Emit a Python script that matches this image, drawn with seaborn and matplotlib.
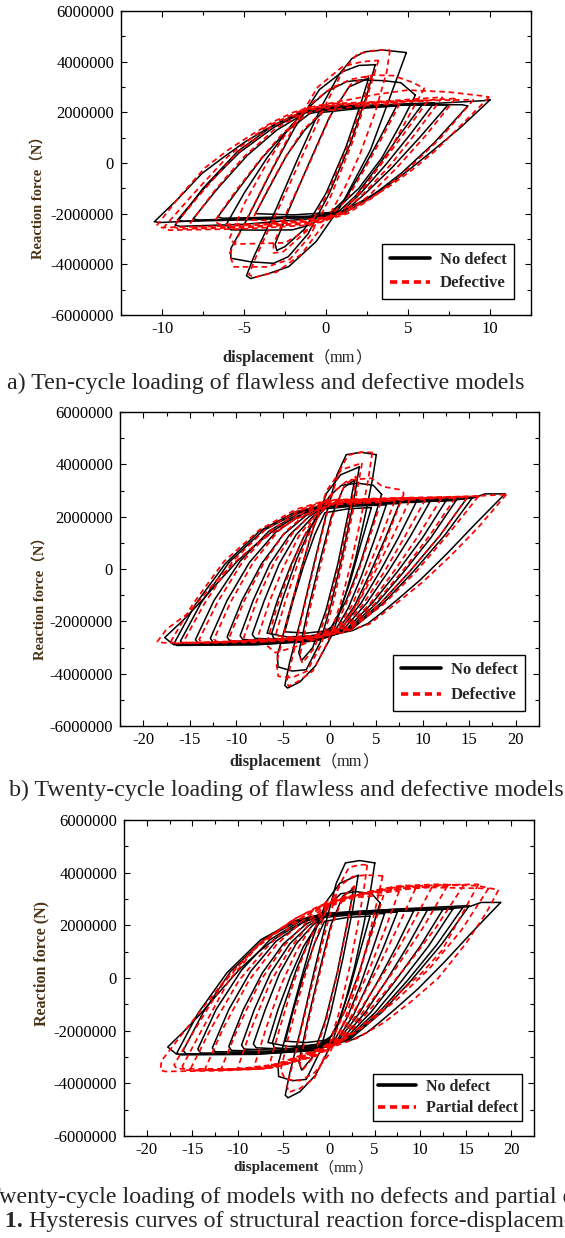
import numpy as np
import pandas as pd
import matplotlib
matplotlib.use("Agg")
import matplotlib.pyplot as plt
from matplotlib.lines import Line2D
from matplotlib.text import Annotation
from matplotlib.ticker import FixedLocator, MultipleLocator, FuncFormatter
import seaborn as sns

# ---------------- data (displacement in mm, force in 1e6 N) ----------------
X_TICKS_A = [-10, -5, 0, 5, 10]
X_TICKS_BC = [-20, -15, -10, -5, 0, 5, 10, 15, 20]
Y_TICKS = [-6000000, -4000000, -2000000, 0, 2000000, 4000000, 6000000]

# (a) ten cycles, no defect
A_NODEF_LOOPS = [
    [(2.6,3.35),(2.1,2.3),(1.2,0.6),(0.0,-1.2),(-1.3,-2.6),(-2.5,-3.3),(-3.0,-3.45),(-3.1,-3.2),(-2.3,-1.9),(-1.1,-0.1),(0.2,1.8),(1.4,3.0),(2.6,3.35)],
    [(3.0,3.88),(2.5,2.7),(1.5,0.8),(0.2,-1.2),(-1.1,-2.8),(-2.3,-3.7),(-3.2,-3.96),(-4.6,-3.9),(-5.8,-3.76),(-5.8,-3.37),(-4.8,-2.2),(-3.4,-0.4),(-1.9,1.4),(-0.4,2.9),(1.0,3.6),(2.0,3.85),(3.0,3.88)],
    [(4.9,4.36),(4.3,3.3),(3.5,1.9),(2.7,0.5),(1.8,-0.6),(0.9,-1.7),(-0.6,-3.1),(-2.27,-4.09),(-3.48,-4.36),(-4.6,-4.56),(-4.85,-4.45),(-4.4,-3.7),(-3.1,-1.9),(-1.7,0.2),(-0.3,2.2),(0.8,3.5),(1.59,4.13),(2.36,4.39),(3.46,4.46),(4.9,4.36)],
    [(5.45,2.68),(4.6,1.6),(3.4,0.2),(2.0,-1.0),(0.6,-1.85),(-1.0,-2.45),(-2.05,-2.64),(-4.0,-2.65),(-5.8,-2.64),(-6.1,-2.45),(-5.0,-1.2),(-3.6,0.2),(-2.1,1.5),(-0.8,2.35),(0.04,2.82),(1.26,3.21),(2.14,3.28),(3.5,3.25),(4.56,3.17),(5.45,2.68)],
    [(4.3,2.25),(3.3,1.0),(2.2,-0.3),(1.2,-1.4),(0.3,-1.95),(-2.0,-2.05),(-4.3,-2.0),(-3.4,-0.9),(-2.4,0.3),(-1.3,1.3),(-0.2,2.0),(2.0,2.15),(4.3,2.25)],
    [(5.9,2.33),(4.6,1.2),(3.2,-0.1),(1.8,-1.3),(0.8,-1.9),(-1.0,-2.1),(-4.0,-2.15),(-6.3,-2.18),(-6.6,-2.13),(-5.3,-1.0),(-3.9,0.2),(-2.5,1.2),(-1.0,1.95),(0.5,2.15),(3.0,2.25),(5.9,2.33)],
    [(6.6,2.38),(5.1,1.1),(3.6,-0.1),(2.1,-1.2),(1.0,-1.9),(-1.0,-2.12),(-4.5,-2.2),(-7.8,-2.25),(-8.1,-2.2),(-6.6,-1.0),(-4.8,0.3),(-3.0,1.3),(-1.2,2.0),(0.5,2.18),(3.5,2.3),(6.6,2.38)],
    [(7.43,2.29),(5.7,1.0),(4.0,-0.2),(2.4,-1.2),(1.1,-1.92),(-1.0,-2.15),(-5.0,-2.25),(-8.7,-2.3),(-9.06,-2.25),(-7.3,-0.9),(-5.3,0.4),(-3.2,1.4),(-1.2,2.05),(0.5,2.2),(4.0,2.28),(7.43,2.29)],
    [(8.64,2.25),(6.6,0.8),(4.6,-0.4),(2.8,-1.3),(1.2,-1.95),(-1.0,-2.2),(-5.0,-2.42),(-8.9,-2.5),(-9.2,-2.45),(-7.5,-1.0),(-5.4,0.45),(-3.2,1.5),(-1.2,2.1),(0.5,2.25),(4.5,2.3),(8.3,2.3),(8.64,2.25)],
    [(10.0,2.49),(8.2,1.4),(6.44,0.45),(5.0,-0.3),(3.68,-0.93),(2.2,-1.5),(0.93,-1.92),(-1.0,-2.15),(-4.0,-2.2),(-7.0,-2.25),(-10.1,-2.35),(-10.47,-2.32),(-9.0,-1.4),(-7.56,-0.41),(-6.2,0.25),(-4.92,0.84),(-3.6,1.35),(-2.27,1.76),(-1.39,2.03),(0.3,2.12),(3.0,2.22),(6.0,2.33),(9.6,2.46),(10.0,2.49)],
]

# (a) ten cycles, defective
A_DEF_LOOPS = [
    [(2.8,3.5),(2.2,2.3),(1.3,0.6),(0.1,-1.2),(-1.2,-2.7),(-2.6,-3.5),(-3.2,-3.55),(-3.2,-3.2),(-2.3,-1.8),(-1.0,0.0),(0.3,1.9),(1.5,3.1),(2.8,3.5)],
    [(3.2,4.05),(2.6,2.8),(1.6,0.8),(0.3,-1.3),(-1.0,-2.9),(-2.2,-3.8),(-3.6,-4.1),(-5.6,-4.1),(-5.9,-3.6),(-4.9,-2.3),(-3.5,-0.5),(-2.0,1.4),(-0.5,3.0),(1.0,3.8),(2.2,4.0),(3.2,4.05)],
    [(3.9,4.46),(3.7,3.6),(3.0,2.0),(2.1,0.4),(1.2,-0.9),(0.0,-2.3),(-1.5,-3.6),(-3.0,-4.3),(-4.4,-4.52),(-4.7,-4.4),(-4.2,-3.6),(-2.9,-1.8),(-1.5,0.2),(-0.1,2.2),(1.0,3.6),(1.9,4.3),(3.0,4.45),(3.9,4.46)],
    [(6.0,2.95),(5.0,1.8),(3.8,0.4),(2.4,-0.9),(1.0,-1.9),(-0.8,-2.5),(-2.5,-3.15),(-5.5,-3.2),(-5.9,-3.0),(-4.9,-1.5),(-3.6,0.0),(-2.2,1.4),(-0.8,2.4),(0.3,2.95),(1.5,3.3),(2.9,3.47),(4.1,3.45),(5.2,3.2),(6.0,2.95)],
    [(4.5,2.35),(3.5,1.1),(2.3,-0.3),(1.2,-1.5),(0.2,-2.1),(-2.0,-2.3),(-4.5,-2.25),(-3.6,-1.1),(-2.5,0.2),(-1.4,1.3),(-0.2,2.05),(2.0,2.25),(4.5,2.35)],
    [(6.2,2.45),(4.8,1.2),(3.3,-0.1),(1.9,-1.3),(0.8,-2.0),(-1.0,-2.3),(-4.0,-2.4),(-6.5,-2.42),(-6.8,-2.3),(-5.5,-1.1),(-4.0,0.15),(-2.6,1.2),(-1.0,2.0),(0.6,2.25),(3.2,2.38),(6.2,2.45)],
    [(7.1,2.6),(5.5,1.2),(3.9,-0.1),(2.3,-1.2),(1.0,-2.0),(-1.0,-2.35),(-4.5,-2.5),(-8.0,-2.55),(-8.3,-2.4),(-6.8,-1.1),(-5.0,0.25),(-3.1,1.35),(-1.2,2.05),(0.6,2.3),(3.8,2.45),(7.1,2.6)],
    [(7.9,2.55),(6.1,1.1),(4.3,-0.2),(2.6,-1.3),(1.1,-2.0),(-1.0,-2.4),(-5.0,-2.55),(-9.0,-2.6),(-9.3,-2.5),(-7.5,-1.1),(-5.5,0.35),(-3.3,1.45),(-1.2,2.1),(0.6,2.3),(4.2,2.4),(7.9,2.55)],
    [(9.0,2.5),(7.0,1.0),(4.9,-0.3),(3.0,-1.3),(1.3,-2.0),(-1.0,-2.45),(-5.0,-2.6),(-9.6,-2.65),(-9.9,-2.55),(-8.2,-1.3),(-6.0,0.25),(-3.6,1.45),(-1.4,2.1),(0.5,2.35),(4.5,2.45),(9.0,2.5)],
    [(9.95,2.6),(8.4,1.6),(6.7,0.5),(5.2,-0.3),(3.8,-0.95),(2.3,-1.55),(1.0,-2.0),(-1.0,-2.3),(-4.0,-2.45),(-7.0,-2.5),(-10.0,-2.55),(-10.3,-2.45),(-8.9,-1.3),(-7.4,-0.2),(-6.0,0.5),(-4.7,1.05),(-3.3,1.6),(-2.0,2.0),(-1.0,2.2),(1.0,2.45),(3.0,2.7),(5.0,2.88),(7.5,2.8),(9.5,2.65),(9.95,2.6)],
]

# (b)/(c) twenty cycles, no defect
B_NODEF_LOOPS = [
    [(5.03,4.37),(4.6,3.4),(3.8,2.0),(2.8,0.4),(1.7,-1.0),(0.3,-2.5),(-1.5,-3.7),(-3.2,-4.32),(-4.5,-4.55),(-4.8,-4.45),(-4.3,-3.6),(-3.0,-1.8),(-1.6,0.3),(-0.2,2.3),(0.8,3.6),(1.8,4.37),(3.37,4.46),(5.03,4.37)],
    [(3.2,3.9),(2.6,2.6),(1.5,0.7),(0.2,-1.3),(-1.0,-2.8),(-2.5,-3.85),(-4.0,-3.9),(-5.53,-3.74),(-5.6,-3.3),(-4.6,-2.0),(-3.2,-0.2),(-1.8,1.5),(-0.3,2.9),(1.2,3.6),(3.2,3.9)],
    [(2.7,3.4),(2.0,2.1),(0.9,0.2),(-0.4,-1.6),(-1.8,-3.0),(-3.0,-3.5),(-3.3,-3.2),(-2.4,-1.7),(-1.1,0.2),(0.2,2.0),(1.5,3.1),(2.7,3.4)],
    [(5.6,2.85),(4.6,1.7),(3.3,0.2),(1.8,-1.2),(0.3,-2.2),(-1.5,-2.6),(-4.0,-2.7),(-6.0,-2.65),(-6.2,-2.45),(-5.0,-1.1),(-3.5,0.4),(-2.0,1.6),(-0.8,2.4),(0.2,2.85),(1.3,3.2),(3.0,3.28),(4.7,3.2),(5.6,2.85)],
    [(4.5,2.35),(3.4,1.0),(2.2,-0.5),(1.0,-1.7),(0.0,-2.35),(-2.5,-2.45),(-4.8,-2.4),(-3.9,-1.2),(-2.8,0.1),(-1.6,1.3),(-0.5,2.15),(2.0,2.3),(4.5,2.35)],
    [(6.1,2.45),(4.8,1.1),(3.4,-0.3),(2.0,-1.5),(0.7,-2.3),(-1.5,-2.55),(-4.5,-2.6),(-6.7,-2.45),(-5.6,-1.2),(-4.2,0.1),(-2.8,1.2),(-1.5,1.9),(-0.5,2.3),(2.5,2.4),(6.1,2.45)],
    [(7.5,2.5),(5.9,1.1),(4.3,-0.2),(2.7,-1.4),(1.0,-2.3),(-1.5,-2.6),(-5.0,-2.7),(-8.0,-2.65),(-8.3,-2.5),(-7.0,-1.2),(-5.4,0.2),(-3.6,1.3),(-1.8,2.0),(-0.5,2.35),(3.0,2.45),(7.5,2.5)],
    [(9.3,2.55),(7.4,1.2),(5.4,-0.1),(3.4,-1.3),(1.2,-2.3),(-1.5,-2.65),(-5.0,-2.75),(-9.3,-2.7),(-9.6,-2.55),(-8.2,-1.2),(-6.4,0.2),(-4.3,1.3),(-2.2,2.0),(-0.5,2.38),(4.0,2.5),(9.3,2.55)],
    [(10.8,2.58),(8.6,1.2),(6.3,-0.1),(4.0,-1.3),(1.5,-2.3),(-1.5,-2.68),(-6.0,-2.8),(-10.7,-2.75),(-11.0,-2.6),(-9.4,-1.2),(-7.3,0.2),(-5.0,1.3),(-2.5,2.05),(-0.5,2.4),(5.0,2.52),(10.8,2.58)],
    [(12.5,2.6),(10.0,1.2),(7.3,-0.1),(4.6,-1.3),(1.8,-2.3),(-1.5,-2.7),(-6.5,-2.82),(-12.5,-2.8),(-12.8,-2.65),(-11.0,-1.2),(-8.6,0.25),(-5.8,1.4),(-2.9,2.1),(-0.5,2.42),(6.0,2.55),(12.5,2.6)],
    [(13.6,2.62),(10.9,1.2),(8.0,-0.1),(5.1,-1.3),(2.0,-2.3),(-1.5,-2.72),(-7.0,-2.85),(-14.1,-2.85),(-14.4,-2.7),(-12.4,-1.2),(-9.6,0.3),(-6.5,1.45),(-3.2,2.15),(-0.5,2.43),(6.5,2.57),(13.6,2.62)],
    [(14.7,2.68),(11.8,1.25),(8.6,-0.1),(5.5,-1.3),(2.2,-2.3),(-1.5,-2.75),(-7.5,-2.88),(-15.7,-2.88),(-16.0,-2.75),(-13.8,-1.3),(-10.8,0.25),(-7.2,1.45),(-3.5,2.15),(-0.5,2.45),(7.0,2.6),(14.7,2.68)],
    [(15.4,2.75),(12.4,1.3),(9.0,-0.1),(5.8,-1.3),(2.4,-2.3),(-1.5,-2.75),(-8.0,-2.9),(-16.4,-2.92),(-16.7,-2.85),(-14.4,-1.35),(-11.2,0.2),(-7.5,1.45),(-3.7,2.18),(-0.5,2.45),(7.5,2.62),(15.4,2.75)],
    [(18.84,2.87),(15.6,1.7),(12.65,0.6),(9.8,-0.4),(7.23,-1.19),(5.5,-1.7),(4.14,-2.08),(2.5,-2.35),(1.04,-2.46),(-1.66,-2.53),(-5.9,-2.78),(-11.0,-2.87),(-16.75,-2.89),(-17.7,-2.62),(-15.7,-1.95),(-13.66,-1.19),(-11.7,-0.4),(-9.79,0.34),(-7.8,0.97),(-5.92,1.49),(-4.3,1.85),(-2.82,2.13),(-0.5,2.41),(3.0,2.52),(8.0,2.56),(13.0,2.62),(15.5,2.72),(16.7,2.87),(18.84,2.87)],
]

# (b) twenty cycles, defective
B_DEF_LOOPS = [
    [(4.6,4.45),(4.1,3.3),(3.3,1.8),(2.3,0.2),(1.2,-1.3),(-0.2,-2.8),(-1.8,-3.9),(-3.4,-4.3),(-4.4,-4.48),(-4.6,-4.3),(-4.0,-3.4),(-2.8,-1.6),(-1.4,0.5),(0.0,2.5),(1.0,3.7),(2.0,4.35),(3.5,4.47),(4.6,4.45)],
    [(3.5,4.05),(2.8,2.7),(1.7,0.8),(0.4,-1.3),(-0.9,-2.9),(-2.4,-3.9),(-4.0,-4.15),(-5.5,-4.1),(-5.7,-3.6),(-4.7,-2.2),(-3.3,-0.3),(-1.8,1.5),(-0.3,3.0),(1.3,3.8),(3.5,4.05)],
    [(2.9,3.55),(2.2,2.2),(1.1,0.3),(-0.2,-1.6),(-1.6,-3.0),(-2.9,-3.6),(-3.2,-3.35),(-2.3,-1.8),(-1.0,0.1),(0.3,2.0),(1.6,3.2),(2.9,3.55)],
    [(8.0,2.9),(6.6,1.6),(5.0,0.2),(3.3,-1.1),(1.5,-2.2),(-1.0,-2.6),(-3.0,-2.9),(-5.8,-3.2),(-6.8,-2.9),(-5.6,-1.4),(-4.0,0.2),(-2.4,1.5),(-1.0,2.4),(0.3,2.9),(2.0,3.4),(4.5,3.47),(5.7,3.15),(7.6,3.03),(8.0,2.9)],
    [(5.5,2.55),(4.3,1.2),(3.0,-0.2),(1.7,-1.4),(0.5,-2.3),(-1.8,-2.55),(-4.5,-2.6),(-5.8,-2.55),(-4.8,-1.3),(-3.6,0.0),(-2.4,1.2),(-1.2,2.0),(-0.2,2.45),(2.5,2.5),(5.5,2.55)],
    [(7.0,2.6),(5.5,1.2),(4.0,-0.1),(2.4,-1.4),(0.8,-2.3),(-1.8,-2.6),(-5.0,-2.68),(-7.4,-2.7),(-7.7,-2.6),(-6.4,-1.2),(-4.9,0.1),(-3.3,1.25),(-1.6,2.05),(-0.2,2.5),(3.0,2.56),(7.0,2.6)],
    [(8.6,2.63),(6.8,1.25),(4.9,-0.1),(3.0,-1.35),(1.0,-2.3),(-1.8,-2.62),(-5.5,-2.7),(-8.9,-2.72),(-9.2,-2.62),(-7.8,-1.2),(-6.0,0.2),(-4.0,1.35),(-2.0,2.1),(-0.2,2.52),(4.0,2.6),(8.6,2.63)],
    [(10.3,2.66),(8.1,1.25),(5.9,-0.1),(3.6,-1.35),(1.3,-2.3),(-1.8,-2.64),(-6.0,-2.72),(-10.5,-2.75),(-10.8,-2.65),(-9.2,-1.25),(-7.1,0.2),(-4.8,1.4),(-2.4,2.15),(-0.2,2.55),(5.0,2.63),(10.3,2.66)],
    [(12.0,2.7),(9.5,1.25),(6.9,-0.1),(4.3,-1.35),(1.6,-2.3),(-1.8,-2.65),(-6.5,-2.74),(-12.1,-2.78),(-12.4,-2.68),(-10.6,-1.25),(-8.2,0.25),(-5.5,1.45),(-2.7,2.2),(-0.2,2.58),(6.0,2.66),(12.0,2.7)],
    [(13.5,2.72),(10.8,1.3),(7.8,-0.1),(4.8,-1.35),(1.8,-2.3),(-1.8,-2.66),(-7.0,-2.76),(-13.7,-2.8),(-14.0,-2.7),(-12.0,-1.25),(-9.3,0.3),(-6.2,1.5),(-3.0,2.25),(-0.2,2.6),(6.5,2.68),(13.5,2.72)],
    [(14.8,2.75),(11.9,1.3),(8.6,-0.1),(5.4,-1.35),(2.0,-2.3),(-1.8,-2.67),(-7.5,-2.78),(-15.3,-2.82),(-15.6,-2.72),(-13.4,-1.3),(-10.4,0.3),(-6.9,1.5),(-3.3,2.25),(-0.2,2.62),(7.0,2.7),(14.8,2.75)],
    [(16.0,2.78),(12.8,1.35),(9.3,-0.1),(5.8,-1.35),(2.2,-2.3),(-1.8,-2.68),(-8.0,-2.8),(-16.7,-2.84),(-17.0,-2.74),(-14.6,-1.3),(-11.3,0.3),(-7.5,1.5),(-3.6,2.28),(-0.2,2.64),(7.5,2.72),(16.0,2.78)],
    [(19.0,2.85),(16.0,1.6),(13.0,0.5),(10.0,-0.5),(7.4,-1.25),(4.3,-2.1),(1.2,-2.45),(-1.8,-2.6),(-6.0,-2.7),(-12.0,-2.8),(-17.8,-2.82),(-18.5,-2.78),(-17.5,-2.3),(-15.2,-1.7),(-13.6,-1.05),(-12.1,-0.42),(-10.2,0.25),(-8.2,0.86),(-6.3,1.35),(-4.4,1.75),(-2.8,2.05),(-1.3,2.26),(1.0,2.55),(6.0,2.68),(12.0,2.74),(16.5,2.8),(19.0,2.85)],
]

# (c) twenty cycles, partial defect
C_PARTIAL_LOOPS = [
    [(4.2,4.3),(3.8,3.3),(3.1,1.9),(2.2,0.3),(1.2,-1.2),(-0.1,-2.7),(-1.6,-3.8),(-3.2,-4.2),(-4.45,-4.34),(-4.6,-4.1),(-4.0,-3.3),(-2.8,-1.6),(-1.4,0.4),(0.0,2.3),(1.1,3.5),(2.2,4.2),(3.4,4.3),(4.2,4.3)],
    [(5.9,3.88),(5.2,2.8),(4.2,1.3),(3.0,-0.3),(1.6,-1.7),(0.0,-2.9),(-1.6,-3.6),(-3.2,-3.9),(-4.8,-3.85),(-5.3,-3.5),(-4.5,-2.3),(-3.2,-0.6),(-1.8,1.1),(-0.3,2.6),(1.2,3.5),(2.6,3.85),(4.0,3.91),(5.9,3.88)],
    [(2.8,3.5),(2.1,2.2),(1.0,0.3),(-0.3,-1.6),(-1.7,-3.0),(-2.9,-3.5),(-3.2,-3.3),(-2.3,-1.7),(-1.0,0.2),(0.3,2.0),(1.6,3.1),(2.8,3.5)],
    [(6.0,3.15),(4.7,1.7),(3.3,0.2),(1.8,-1.2),(0.3,-2.4),(-1.5,-2.8),(-4.0,-3.1),(-6.2,-3.3),(-6.5,-3.25),(-5.4,-1.9),(-4.1,-0.4),(-2.8,0.9),(-1.4,2.0),(0.0,2.7),(2.5,3.05),(6.0,3.15)],
    [(7.7,3.3),(6.1,1.8),(4.4,0.3),(2.6,-1.1),(0.6,-2.4),(-1.5,-2.85),(-4.5,-3.2),(-7.9,-3.4),(-8.2,-3.35),(-6.9,-1.9),(-5.3,-0.3),(-3.6,1.0),(-1.8,2.05),(0.0,2.75),(3.0,3.15),(7.7,3.3)],
    [(9.5,3.4),(7.5,1.9),(5.4,0.4),(3.2,-1.0),(0.8,-2.4),(-1.5,-2.9),(-5.0,-3.3),(-9.7,-3.45),(-10.0,-3.4),(-8.5,-1.9),(-6.5,-0.2),(-4.3,1.1),(-2.1,2.1),(0.0,2.8),(4.0,3.25),(9.5,3.4)],
    [(11.3,3.45),(8.9,1.9),(6.4,0.4),(3.8,-1.0),(1.0,-2.4),(-1.5,-2.93),(-5.5,-3.35),(-11.5,-3.48),(-11.8,-3.42),(-10.0,-1.9),(-7.6,-0.15),(-5.0,1.2),(-2.4,2.15),(0.0,2.85),(5.0,3.3),(11.3,3.45)],
    [(13.0,3.5),(10.3,1.9),(7.4,0.4),(4.4,-1.0),(1.2,-2.4),(-1.5,-2.95),(-6.0,-3.4),(-13.3,-3.5),(-13.6,-3.45),(-11.6,-1.9),(-8.8,-0.1),(-5.8,1.25),(-2.8,2.2),(0.0,2.9),(6.0,3.4),(13.0,3.5)],
    [(14.8,3.53),(11.7,1.9),(8.4,0.4),(5.0,-1.0),(1.4,-2.4),(-1.5,-2.97),(-6.5,-3.42),(-14.9,-3.52),(-15.2,-3.45),(-13.0,-1.95),(-9.9,-0.1),(-6.5,1.3),(-3.1,2.25),(0.0,2.95),(7.0,3.45),(14.8,3.53)],
    [(16.4,3.56),(14.4,2.3),(12.4,1.05),(10.2,0.2),(8.0,-0.47),(6.4,-1.0),(4.76,-1.49),(2.5,-2.1),(0.5,-2.5),(-0.7,-2.63),(-3.6,-3.0),(-7.2,-3.45),(-12.0,-3.5),(-15.8,-3.5),(-16.1,-3.35),(-14.0,-2.0),(-11.0,-0.1),(-7.5,1.35),(-3.5,2.3),(-1.0,2.7),(1.46,3.0),(4.04,3.21),(7.68,3.47),(12.0,3.53),(16.4,3.56)],
    [(17.5,3.4),(14.5,1.8),(11.0,0.35),(7.5,-0.8),(4.0,-1.8),(1.0,-2.5),(-1.5,-2.8),(-5.0,-3.25),(-10.0,-3.45),(-16.7,-3.45),(-17.0,-3.3),(-14.8,-2.0),(-11.6,-0.2),(-8.0,1.2),(-4.0,2.2),(-1.0,2.75),(3.0,3.15),(9.0,3.45),(17.5,3.4)],
    [(18.6,3.34),(17.3,2.5),(15.0,1.3),(12.0,0.0),(9.0,-0.9),(6.0,-1.7),(3.0,-2.3),(0.5,-2.6),(-2.0,-2.85),(-4.5,-3.2),(-7.2,-3.45),(-12.0,-3.52),(-18.0,-3.55),(-18.5,-3.5),(-18.4,-3.15),(-16.5,-2.3),(-14.0,-1.2),(-11.0,0.1),(-8.0,1.15),(-5.0,1.9),(-2.5,2.39),(-0.5,2.75),(1.46,3.05),(4.0,3.25),(7.7,3.5),(12.0,3.56),(16.4,3.5),(18.6,3.34)],
]

LEGEND_A = ["No defect", "Defective"]
LEGEND_B = ["No defect", "Defective"]
LEGEND_C = ["No defect", "Partial defect"]

# ---------------- styling / layout ----------------
sns.set_style("ticks")
plt.rcParams["font.family"] = ["Liberation Serif", "Noto Sans CJK SC"]
plt.rcParams["axes.unicode_minus"] = False

W, H = 565, 1238
fig = plt.figure(figsize=(W / 100, H / 100), dpi=100)


def fx(px):
    return px / W


def fy(py):
    return 1 - py / H


def rect(l, t, r, b):
    return [fx(l), fy(b), fx(r) - fx(l), fy(t) - fy(b)]


def to_df(loops, name):
    rows = []
    for i, lp in enumerate(loops):
        for j, (x, y) in enumerate(lp):
            rows.append((f"{name}-{i}", j, x, y * 1e6))
    return pd.DataFrame(rows, columns=["loop", "order", "disp", "force"])


YLAB_COLOR = "#4a3214"


def chain(prev, text, size, family, weight="normal"):
    a = Annotation(text, xy=(1, 0.5), xycoords=prev, ha="left", va="center",
                   fontsize=size, family=family, fontweight=weight)
    fig.add_artist(a)
    return a


def panel(box, black, red, xticks, xlim, labels, leg_anchor, leg_kw, ylab, ylab_pos, ylab_size,
          xl_y, disp_left, xl_size):
    ax = fig.add_axes(rect(*box))
    sns.lineplot(data=to_df(black, "nd"), x="disp", y="force", units="loop",
                 estimator=None, sort=False, color="black", lw=1.1, ax=ax, legend=False)
    sns.lineplot(data=to_df(red, "d"), x="disp", y="force", units="loop",
                 estimator=None, sort=False, color="#ff0000", lw=1.25,
                 linestyle=(0, (3.2, 2.2)), ax=ax, legend=False)
    ax.set_xlim(*xlim)
    ax.set_ylim(-6e6, 6e6)
    ax.xaxis.set_major_locator(FixedLocator(xticks))
    step = xticks[1] - xticks[0]
    ax.xaxis.set_minor_locator(MultipleLocator(step / 2))
    ax.yaxis.set_major_locator(FixedLocator(Y_TICKS))
    ax.yaxis.set_minor_locator(MultipleLocator(1e6))
    ax.xaxis.set_major_formatter(FuncFormatter(lambda v, p: f"{int(round(v))}"))
    ax.yaxis.set_major_formatter(FuncFormatter(lambda v, p: f"{int(round(v))}"))
    ax.tick_params(which="both", direction="in", top=True, right=True,
                   labelsize=12, width=0.8, colors="black")
    ax.tick_params(which="major", length=4.5, pad=4)
    ax.tick_params(axis="y", which="major", pad=5)
    ax.tick_params(which="minor", length=2.8)
    for s in ax.spines.values():
        s.set_linewidth(1.0)
        s.set_color("black")
    ax.set_xlabel("")
    ax.set_ylabel("")
    handles = [Line2D([], [], color="black", lw=2.6),
               Line2D([], [], color="#ff0000", lw=2.6, linestyle=(0, (2.0, 1.3)))]
    leg = ax.legend(handles, labels, loc="lower left", bbox_to_anchor=leg_anchor,
                    frameon=True, fancybox=False, edgecolor="black", framealpha=1,
                    prop=dict(family="Liberation Serif", weight="bold", size=leg_kw["size"]),
                    handlelength=2.4, borderpad=leg_kw["pad"], labelspacing=leg_kw["space"],
                    handletextpad=0.6, borderaxespad=0)
    leg.get_frame().set_linewidth(1.0)
    # axis labels
    fig.text(fx(ylab_pos[0]), fy(ylab_pos[1]), ylab, rotation=90, ha="center", va="center",
             fontsize=ylab_size, fontweight="bold", color=YLAB_COLOR,
             family=["Liberation Serif", "Noto Sans CJK SC"])
    t = fig.text(fx(disp_left), fy(xl_y), "displacement", ha="left", va="center",
                 fontsize=xl_size, fontweight="bold", family="Liberation Serif")
    p1 = chain(t, "（", xl_size, ["Noto Sans CJK SC"])
    p2 = chain(p1, "mm", xl_size, ["Liberation Serif"])
    chain(p2, "）", xl_size, ["Noto Sans CJK SC"])
    return ax


CAP = 17.3
panel((121, 11, 531, 315), A_NODEF_LOOPS, A_DEF_LOOPS, X_TICKS_A, (-12.5, 12.5), LEGEND_A,
      (0.637, 0.053), dict(size=12, pad=0.45, space=0.45), "Reaction force（N）", (38, 194), 10.5,
      358, 222, 11.8)
fig.text(fx(7), fy(383), "a) Ten-cycle loading of flawless and defective models",
         ha="left", va="center", fontsize=CAP, family="Liberation Serif")

panel((120, 412, 539, 726), B_NODEF_LOOPS, B_DEF_LOOPS, X_TICKS_BC, (-22.5, 22.5), LEGEND_B,
      (0.652, 0.048), dict(size=12, pad=0.45, space=0.55), "Reaction force（N）", (40, 595), 10.5,
      762, 229, 11.8)
fig.text(fx(9), fy(790), "b) Twenty-cycle loading of flawless and defective models",
         ha="left", va="center", fontsize=CAP, family="Liberation Serif")

panel((124, 820, 534, 1136), B_NODEF_LOOPS, C_PARTIAL_LOOPS, X_TICKS_BC, (-22.5, 22.5), LEGEND_C,
      (0.607, 0.0475), dict(size=11.5, pad=0.3, space=0.35), "Reaction force (N)", (41, 964), 11.5,
      1168, 233, 11.0)
fig.text(fx(-38), fy(1197), "c) Twenty-cycle loading of models with no defects and partial defects",
         ha="left", va="center", fontsize=CAP, family="Liberation Serif")

t1 = fig.text(fx(-69), fy(1222), "Figure 1.", ha="left", va="center", fontsize=CAP,
              fontweight="bold", family="Liberation Serif")
chain(t1, " Hysteresis curves of structural reaction force-displacement", CAP, "Liberation Serif")

fig.savefig("out.png", dpi=100)
